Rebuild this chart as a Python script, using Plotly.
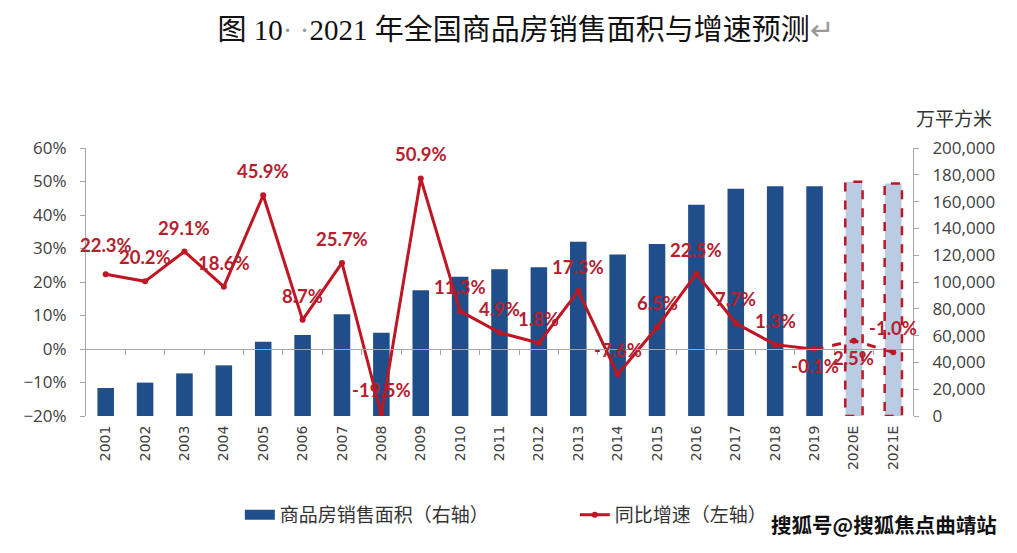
import plotly.graph_objects as go

years = ["2001", "2002", "2003", "2004", "2005", "2006", "2007", "2008", "2009", "2010",
         "2011", "2012", "2013", "2014", "2015", "2016", "2017", "2018", "2019", "2020E", "2021E"]
area = [20900, 24900, 31800, 37800, 55500, 60400, 75900, 62200, 93800, 104000,
        109500, 111000, 130000, 120600, 128400, 157700, 169600, 171400, 171400, 174900, 173600]
growth = [22.3, 20.2, 29.1, 18.6, 45.9, 8.7, 25.7, -19.5, 50.9, 11.3,
          4.9, 1.8, 17.3, -7.6, 6.5, 22.5, 7.7, 1.3, -0.1, 2.5, -1.0]
label_below = ["2019", "2020E"]
n_actual = 19  # 2001-2019 actual, rest forecast

BAR = "#1F4E8A"
BAR_F = "#B9CCE4"
RED = "#BE1622"
LABEL = "#B5202E"
TICK = "#404040"
CJK = "Noto Sans CJK SC"

pos = list(range(len(years)))

fig = go.Figure()

fig.add_trace(go.Bar(
    x=pos, y=area, yaxis="y", width=0.42,
    marker=dict(color=[BAR] * n_actual + [BAR_F] * (len(years) - n_actual), line=dict(width=0)),
    name="商品房销售面积（右轴）", showlegend=False,
))
# legend entry for the bars (wide rectangle swatch)
fig.add_trace(go.Scatter(
    x=[None], y=[None], yaxis="y", mode="lines", line=dict(color=BAR, width=12),
    name="商品房销售面积（右轴）",
))

fig.add_trace(go.Scatter(
    x=pos[:n_actual], y=growth[:n_actual], yaxis="y2", mode="lines+markers",
    line=dict(color=RED, width=3), marker=dict(color=RED, size=6),
    name="同比增速（左轴）",
))
fig.add_trace(go.Scatter(
    x=pos[n_actual - 1:], y=growth[n_actual - 1:], yaxis="y2", mode="lines+markers",
    line=dict(color=RED, width=3, dash="dash"), marker=dict(color=RED, size=6),
    showlegend=False,
))

shapes = []
for i in range(n_actual, len(years)):
    shapes.append(dict(type="rect", xref="x", yref="y", x0=pos[i] - 0.22, x1=pos[i] + 0.22, y0=0, y1=area[i],
                       line=dict(color=RED, width=2.5, dash="dash"), fillcolor="rgba(0,0,0,0)"))

annotations = []
for p, yr, g in zip(pos, years, growth):
    below = yr in label_below
    shift = -17 if below else 24
    if yr == "2001":
        shift = 29
    annotations.append(dict(x=p, y=g, xref="x", yref="y2", text=f"{g:.1f}%", showarrow=False,
                            yshift=shift,
                            font=dict(family="Lato, Open Sans", size=18.5, color=LABEL, weight="bold")))

annotations.append(dict(xref="paper", yref="paper", x=1.05, y=1.115, xanchor="center", yanchor="middle",
                        text="万平方米", showarrow=False, font=dict(family=CJK, size=19, color="#333333")))
annotations.append(dict(xref="paper", yref="paper", x=1.104, y=-0.403, xanchor="right", yanchor="middle",
                        text="<b>搜狐号@搜狐焦点曲靖站</b>", showarrow=False,
                        font=dict(family=CJK, size=20.5, color="#111111")))

fig.update_layout(
    width=1017, height=553,
    margin=dict(l=78, r=112, t=140, b=145),
    paper_bgcolor="white", plot_bgcolor="white",
    title=dict(text="图 10<span style='color:#999'>· ·</span>2021 年全国商品房销售面积与增速预测<span style='color:#999'>↵</span>",
               x=0.509, xanchor="center", y=0.96, yanchor="middle",
               font=dict(family="Liberation Serif, Noto Sans CJK SC", size=29, color="#111111")),
    showlegend=True,
    legend=dict(orientation="h", x=0.186, y=-0.369, xanchor="left", yanchor="middle",
                font=dict(family=CJK, size=19, color="#333333"),
                entrywidth=290, entrywidthmode="pixels", bgcolor="rgba(0,0,0,0)"),
    xaxis=dict(range=[-0.5, len(years) - 0.5],
               tickmode="array", tickvals=pos, ticktext=years,
               anchor="free", position=0.25,
               showline=True, linecolor="#A6A6A6", linewidth=1,
               ticks="", tickangle=-90, ticklabelstandoff=70,
               minor=dict(tickmode="array", tickvals=[p + 0.5 for p in pos[:-1]],
                          ticks="outside", ticklen=5, tickcolor="#A6A6A6", showgrid=False),
               tickfont=dict(family="DejaVu Sans", size=14, color=TICK),
               showgrid=False, zeroline=False),
    yaxis=dict(side="right", range=[0, 200000], dtick=20000, tickformat=",",
               showline=True, linecolor="#A6A6A6", ticks="outside", ticklen=5, tickcolor="#A6A6A6",
               ticklabelstandoff=10,
               tickfont=dict(family="Open Sans", size=17, color=TICK),
               showgrid=False, zeroline=False),
    yaxis2=dict(side="left", overlaying="y", range=[-20, 60], dtick=10, ticksuffix="%",
                showline=True, linecolor="#A6A6A6", ticks="outside", ticklen=5, tickcolor="#A6A6A6",
                ticklabelstandoff=10,
                tickfont=dict(family="Open Sans", size=17, color=TICK),
                showgrid=False, zeroline=False),
    shapes=shapes,
    annotations=annotations,
)

fig.write_html("out.html")
